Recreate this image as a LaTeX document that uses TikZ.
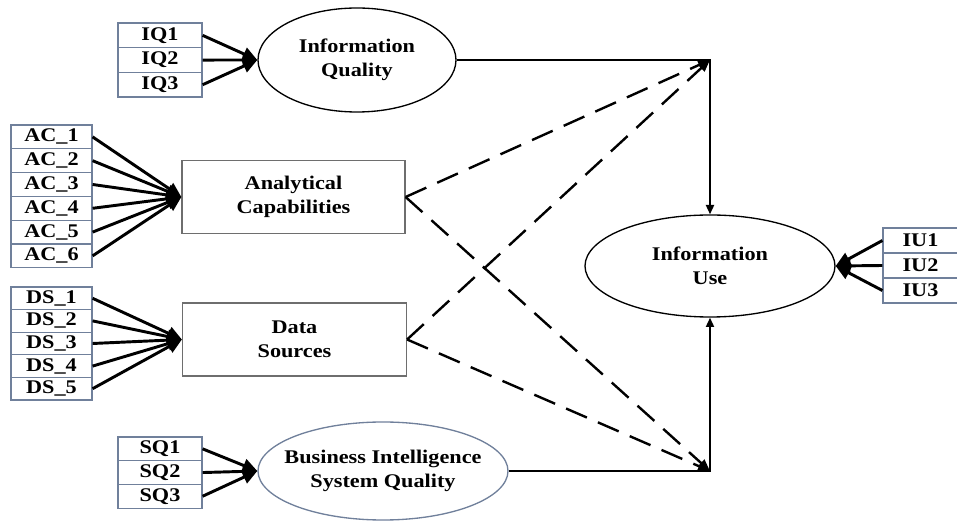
\documentclass[tikz,border=0pt]{standalone}
\usepackage{fontspec}
\setmainfont{Liberation Serif}[FakeStretch=1.15]
\usetikzlibrary{shapes.geometric,arrows.meta}
\definecolor{boxblue}{RGB}{112,128,155}
\definecolor{rectgray}{RGB}{110,110,110}
\tikzset{
  lbl/.style={font=\bfseries\fontsize{14.5pt}{18pt}\selectfont, align=center},
  ind/.style={draw=boxblue, line width=0.9pt, rectangle, inner sep=0pt, lbl},
  latent/.style={ellipse, draw, line width=1pt, inner sep=0pt, inner xsep=-30pt, lbl},
  construct/.style={rectangle, draw=rectgray, line width=0.9pt, inner sep=0pt, lbl},
  indarrow/.style={line width=2.2pt, -{Triangle[length=11pt,width=10pt]}},
  path/.style={line width=1.5pt, -{Triangle[length=7pt,width=6pt]}},
  dpath/.style={line width=1.8pt, dash pattern=on 17pt off 9pt, -{Triangle[length=9pt,width=7pt]}},
}
\begin{document}
\begin{tikzpicture}[x=0.75pt,y=-0.75pt]
\useasboundingbox (0,0) rectangle (957,523);
% latent variables
\node[latent, minimum width=148.5pt, minimum height=78pt] (IQ) at (357,60) {Information\\Quality};
\node[latent, minimum width=187.5pt, minimum height=76.5pt] (IU) at (710,266) {Information\\Use};
\node[latent, draw=boxblue, minimum width=187.5pt, minimum height=73.5pt] (BI) at (383,471) {Business Intelligence\\System Quality};
\node[construct, minimum width=167.25pt, minimum height=54.75pt] (AC) at (293.5,197) {Analytical\\Capabilities};
\node[construct, minimum width=168pt, minimum height=54.75pt] (DS) at (294.5,339.5) {Data\\Sources};
% indicator boxes
\foreach \i in {1,2,3} {
  \node[ind, minimum width=63pt, minimum height=18.5pt] (IQ\i) at (160,{23+24.7*(\i-0.5)}) {IQ\i};
  \node[ind, minimum width=63pt, minimum height=17.8pt] (SQ\i) at (160,{437+23.7*(\i-0.5)}) {SQ\i};
  \node[ind, minimum width=56.25pt, minimum height=18.75pt] (IU\i) at (920.5,{228+25*(\i-0.5)}) {IU\i};
  \draw[indarrow] (IQ\i.east) -- (IQ.west);
  \draw[indarrow] (SQ\i.east) -- (BI.west);
  \draw[indarrow] (IU\i.west) -- (IU.east);
}
\foreach \i in {1,...,6} {
  \node[ind, minimum width=60.75pt, minimum height=17.85pt] (AC\i) at (51.5,{125+23.8*(\i-0.5)}) {AC\_\i};
  \draw[indarrow] (AC\i.east) -- (AC.west);
}
\foreach \i in {1,...,5} {
  \node[ind, minimum width=60.75pt, minimum height=16.95pt] (DS\i) at (51.5,{287+22.6*(\i-0.5)}) {DS\_\i};
  \draw[indarrow] (DS\i.east) -- (DS.west);
}
% structural paths
\coordinate (top) at (IU.north |- IQ.east);
\coordinate (bot) at (IU.south |- BI.east);
\draw[path] (IQ.east) -- (top) -- (IU.north);
\draw[path] (BI.east) -- (bot) -- (IU.south);
\draw[dpath] (AC.east) -- (top);
\draw[dpath] (DS.east) -- (top);
\draw[dpath] (AC.east) -- (bot);
\draw[dpath] (DS.east) -- (bot);
\end{tikzpicture}
\end{document}
